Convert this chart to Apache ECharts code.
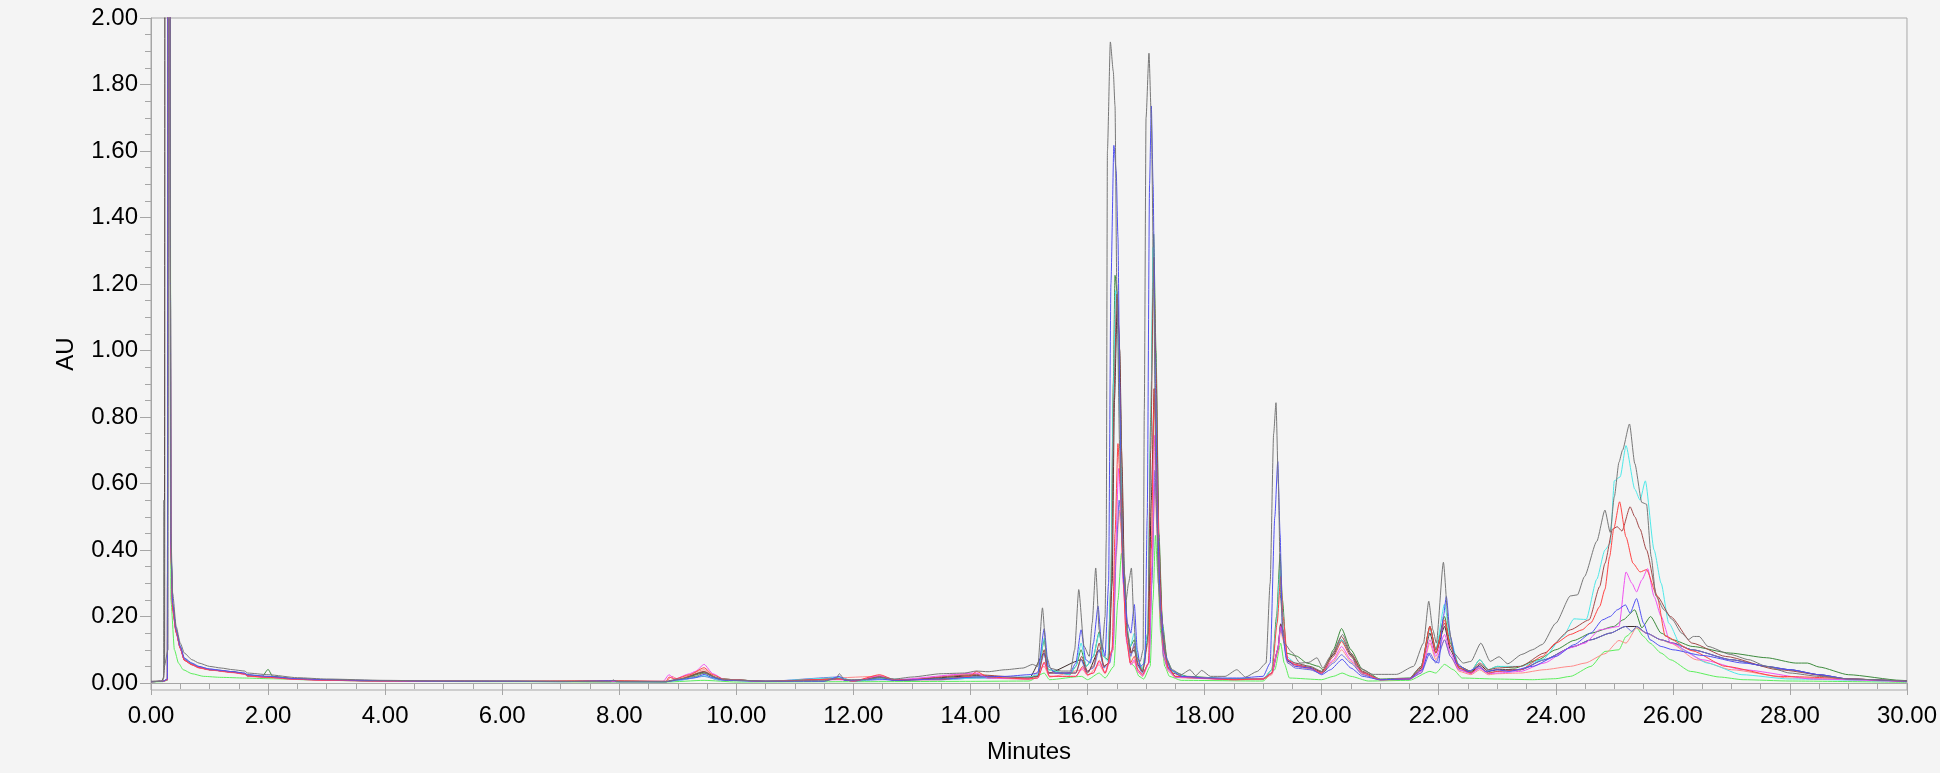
<!DOCTYPE html>
<html>
<head>
<meta charset="utf-8">
<script src="https://cdn.jsdelivr.net/npm/echarts@6/dist/echarts.min.js"></script>
<style>
  html, body { margin: 0; padding: 0; background: #ffffff; }
  #chart { width: 1940px; height: 773px; background: #f4f4f4; }
</style>
</head>
<body>
<div id="chart"></div>
<script>
// ---- tick labels ----
const xTicks = [0, 2, 4, 6, 8, 10, 12, 14, 16, 18, 20, 22, 24, 26, 28, 30];
const yMajor = [0, 0.2, 0.4, 0.6, 0.8, 1.0, 1.2, 1.4, 1.6, 1.8, 2.0];
const yMinor = [0.05, 0.1, 0.15, 0.25, 0.3, 0.35, 0.45, 0.5, 0.55, 0.65, 0.7, 0.75, 0.85, 0.9, 0.95,
  1.05, 1.1, 1.15, 1.25, 1.3, 1.35, 1.45, 1.5, 1.55, 1.65, 1.7, 1.75, 1.85, 1.9, 1.95];

// ---- series values: [minutes, AU] ----
const gray = [[0,0.004],[0.2,0.005],[0.215,0.02],[0.222,0.55],[0.228,0.05],[0.29,0.1],[0.3,3],[0.32,3],[0.34,0.45],[0.37,0.27],[0.43,0.17],[0.5,0.12],[0.57,0.09],[0.7,0.07],[0.82,0.06],[1.0,0.05],[1.2,0.045],[1.4,0.04],[1.6,0.036],[1.65,0.03],[2.0,0.025],[2.5,0.016],[3.0,0.012],[4.0,0.008],[5.0,0.006],[6.0,0.006],[7.0,0.005],[7.85,0.005],[7.9,0.009],[7.95,0.005],[8.8,0.005],[9.0,0.012],[9.3,0.02],[9.45,0.03],[9.6,0.02],[9.8,0.01],[10.5,0.006],[11.5,0.007],[11.7,0.012],[11.76,0.028],[11.85,0.01],[12.2,0.01],[12.45,0.018],[12.7,0.012],[13.0,0.018],[13.5,0.028],[13.9,0.03],[14.1,0.036],[14.3,0.034],[14.6,0.04],[14.9,0.045],[15.06,0.056],[15.15,0.05],[15.23,0.226],[15.3,0.08],[15.37,0.044],[15.55,0.036],[15.71,0.036],[15.78,0.1],[15.85,0.281],[15.94,0.111],[16.03,0.08],[16.08,0.18],[16.14,0.346],[16.2,0.16],[16.25,0.1],[16.3,0.2],[16.32,0.43],[16.34,1.6],[16.39,1.928],[16.44,1.84],[16.47,1.735],[16.5,1.2],[16.55,0.7],[16.6,0.4],[16.66,0.25],[16.7,0.3],[16.75,0.346],[16.79,0.2],[16.83,0.08],[16.9,0.065],[16.95,0.1],[16.97,0.82],[17.0,1.7],[17.05,1.894],[17.09,1.7],[17.13,1.2],[17.17,0.6],[17.21,0.3],[17.27,0.15],[17.35,0.07],[17.45,0.04],[17.6,0.025],[17.75,0.04],[17.85,0.022],[17.95,0.038],[18.1,0.02],[18.35,0.02],[18.55,0.04],[18.7,0.018],[18.9,0.035],[19.05,0.06],[19.12,0.3],[19.18,0.75],[19.22,0.843],[19.26,0.6],[19.3,0.25],[19.36,0.12],[19.49,0.093],[19.63,0.06],[19.78,0.062],[19.92,0.076],[20.02,0.045],[20.15,0.08],[20.36,0.146],[20.5,0.09],[20.6,0.05],[20.88,0.026],[21.28,0.026],[21.57,0.05],[21.74,0.12],[21.83,0.246],[21.9,0.16],[21.96,0.12],[22.08,0.363],[22.17,0.17],[22.25,0.091],[22.42,0.06],[22.55,0.065],[22.72,0.12],[22.88,0.065],[23.03,0.079],[23.18,0.058],[23.42,0.086],[23.6,0.1],[23.77,0.116],[24.0,0.18],[24.25,0.262],[24.37,0.265],[24.49,0.32],[24.7,0.426],[24.84,0.52],[24.93,0.453],[25.0,0.56],[25.08,0.664],[25.14,0.7],[25.26,0.779],[25.35,0.66],[25.47,0.543],[25.55,0.538],[25.63,0.38],[25.71,0.262],[25.85,0.22],[25.99,0.191],[26.15,0.15],[26.27,0.131],[26.35,0.14],[26.45,0.14],[26.6,0.11],[26.98,0.086],[27.3,0.07],[27.6,0.05],[28,0.03],[28.5,0.02],[29,0.012],[30,0.006]];

const blue = [[0,0.004],[0.2,0.005],[0.28,0.012],[0.29,3],[0.32,3],[0.34,0.42],[0.37,0.24],[0.43,0.16],[0.5,0.11],[0.57,0.075],[0.7,0.06],[0.82,0.05],[1.0,0.042],[1.2,0.038],[1.4,0.034],[1.6,0.03],[1.65,0.025],[2.0,0.02],[2.5,0.013],[3.0,0.01],[4,0.007],[5,0.005],[6,0.005],[7,0.004],[7.9,0.007],[8.0,0.004],[8.8,0.004],[9.0,0.01],[9.3,0.016],[9.45,0.026],[9.6,0.016],[9.8,0.008],[10.5,0.005],[11.5,0.005],[11.76,0.02],[11.85,0.008],[12.45,0.012],[12.7,0.008],[13.5,0.012],[14.1,0.018],[14.6,0.02],[15.0,0.025],[15.15,0.03],[15.26,0.163],[15.33,0.05],[15.45,0.03],[15.7,0.03],[15.8,0.06],[15.89,0.16],[15.97,0.07],[16.05,0.06],[16.1,0.12],[16.18,0.231],[16.24,0.12],[16.3,0.08],[16.36,0.3],[16.4,1.2],[16.45,1.617],[16.49,1.54],[16.52,1.34],[16.55,0.9],[16.57,0.56],[16.62,0.3],[16.68,0.18],[16.74,0.15],[16.8,0.236],[16.85,0.1],[16.9,0.05],[16.98,0.06],[17.02,0.5],[17.06,1.5],[17.09,1.735],[17.12,1.5],[17.16,0.9],[17.2,0.45],[17.25,0.22],[17.32,0.09],[17.42,0.04],[17.6,0.02],[17.8,0.018],[18.0,0.015],[18.6,0.015],[19.0,0.02],[19.12,0.06],[19.2,0.5],[19.25,0.666],[19.29,0.45],[19.33,0.15],[19.4,0.07],[19.55,0.05],[19.8,0.045],[20.0,0.025],[20.15,0.04],[20.35,0.071],[20.5,0.045],[20.7,0.02],[21.0,0.01],[21.5,0.012],[21.72,0.04],[21.82,0.09],[21.9,0.07],[22.0,0.06],[22.08,0.2],[22.13,0.26],[22.2,0.14],[22.3,0.06],[22.5,0.035],[22.7,0.05],[22.8,0.035],[23.0,0.04],[23.2,0.035],[23.6,0.05],[24.0,0.08],[24.31,0.115],[24.6,0.15],[24.8,0.19],[24.93,0.2],[25.05,0.22],[25.19,0.235],[25.27,0.21],[25.38,0.254],[25.5,0.18],[25.61,0.13],[25.8,0.11],[26.0,0.1],[26.5,0.083],[27.2,0.06],[28.0,0.04],[28.5,0.025],[29.0,0.012],[30,0.005]];

const darkGreen = [[0,0.004],[0.2,0.005],[0.28,0.01],[0.29,3],[0.32,3],[0.34,0.41],[0.37,0.23],[0.43,0.155],[0.5,0.105],[0.57,0.07],[0.7,0.056],[0.82,0.047],[1.0,0.04],[1.4,0.033],[1.6,0.028],[1.65,0.024],[1.9,0.02],[2.0,0.041],[2.08,0.02],[2.5,0.012],[3,0.009],[4,0.006],[6,0.005],[7.9,0.006],[8.8,0.004],[9.0,0.01],[9.45,0.03],[9.7,0.012],[10.5,0.005],[11.76,0.012],[12.0,0.006],[12.45,0.015],[12.8,0.008],[14.1,0.018],[14.8,0.015],[15.15,0.02],[15.26,0.13],[15.33,0.04],[15.7,0.025],[15.8,0.05],[15.89,0.1],[15.98,0.05],[16.1,0.08],[16.2,0.154],[16.27,0.08],[16.35,0.07],[16.4,0.3],[16.44,0.9],[16.47,1.226],[16.51,1.17],[16.55,0.85],[16.6,0.4],[16.66,0.18],[16.73,0.11],[16.8,0.13],[16.86,0.07],[16.94,0.04],[17.03,0.15],[17.08,0.8],[17.13,1.35],[17.17,1.0],[17.22,0.45],[17.28,0.18],[17.36,0.07],[17.45,0.035],[17.7,0.02],[18.5,0.012],[19.0,0.012],[19.15,0.04],[19.23,0.2],[19.29,0.387],[19.33,0.25],[19.4,0.09],[19.57,0.081],[19.75,0.06],[19.95,0.05],[20.05,0.035],[20.2,0.1],[20.34,0.164],[20.5,0.1],[20.7,0.04],[21.0,0.012],[21.5,0.015],[21.7,0.05],[21.85,0.17],[21.95,0.1],[22.1,0.2],[22.2,0.12],[22.35,0.05],[22.55,0.035],[22.7,0.07],[22.85,0.04],[23.0,0.05],[23.3,0.045],[23.7,0.07],[24.0,0.1],[24.31,0.128],[24.6,0.15],[24.99,0.17],[25.15,0.19],[25.35,0.22],[25.47,0.166],[25.62,0.2],[25.8,0.15],[26.0,0.13],[26.33,0.11],[26.98,0.09],[27.6,0.076],[28.1,0.06],[28.3,0.06],[28.5,0.048],[29.0,0.025],[29.9,0.008],[30,0.007]];

const cyan = [[0,0.004],[0.2,0.005],[0.28,0.01],[0.29,3],[0.32,3],[0.34,0.42],[0.37,0.235],[0.43,0.158],[0.5,0.108],[0.57,0.072],[0.7,0.058],[0.82,0.048],[1.0,0.041],[1.4,0.033],[1.6,0.028],[1.65,0.023],[2.0,0.018],[2.5,0.012],[3,0.009],[4,0.006],[6,0.005],[8.8,0.004],[9.0,0.008],[9.45,0.022],[9.7,0.01],[10.5,0.005],[11.76,0.016],[12.0,0.006],[12.45,0.012],[13.5,0.01],[14.1,0.015],[15.0,0.018],[15.15,0.025],[15.26,0.135],[15.33,0.04],[15.7,0.025],[15.8,0.05],[15.89,0.12],[15.98,0.05],[16.1,0.08],[16.2,0.15],[16.27,0.08],[16.35,0.065],[16.4,0.3],[16.44,0.85],[16.48,1.18],[16.52,1.1],[16.56,0.8],[16.61,0.38],[16.67,0.17],[16.73,0.11],[16.8,0.15],[16.86,0.07],[16.94,0.04],[17.03,0.15],[17.08,0.75],[17.12,1.31],[17.16,1.0],[17.21,0.45],[17.27,0.18],[17.35,0.07],[17.45,0.035],[17.7,0.018],[18.5,0.012],[19.0,0.012],[19.15,0.04],[19.23,0.18],[19.29,0.34],[19.33,0.22],[19.4,0.08],[19.55,0.06],[19.8,0.05],[20.0,0.035],[20.2,0.08],[20.34,0.13],[20.5,0.08],[20.7,0.03],[21.0,0.01],[21.5,0.014],[21.7,0.05],[21.85,0.16],[21.95,0.1],[22.1,0.237],[22.2,0.13],[22.35,0.05],[22.55,0.035],[22.7,0.07],[22.85,0.04],[23.0,0.05],[23.4,0.05],[23.77,0.07],[24.13,0.141],[24.31,0.193],[24.52,0.191],[24.7,0.312],[24.84,0.4],[24.93,0.42],[25.0,0.608],[25.1,0.62],[25.2,0.714],[25.35,0.583],[25.44,0.55],[25.53,0.608],[25.68,0.4],[25.8,0.3],[25.93,0.18],[26.17,0.1],[26.59,0.06],[27.18,0.025],[28,0.012],[30,0.004]];

const red = [[0,0.004],[0.2,0.005],[0.28,0.01],[0.29,3],[0.32,3],[0.34,0.4],[0.37,0.22],[0.43,0.152],[0.5,0.105],[0.57,0.068],[0.7,0.055],[0.82,0.046],[1.0,0.04],[1.4,0.032],[1.6,0.027],[1.65,0.021],[2.0,0.017],[2.5,0.011],[3,0.008],[4,0.006],[6,0.005],[7.9,0.007],[8.8,0.005],[8.85,0.018],[8.95,0.012],[9.2,0.025],[9.45,0.046],[9.6,0.025],[9.8,0.01],[10.5,0.005],[11.76,0.012],[12.0,0.006],[12.45,0.025],[12.7,0.01],[13.5,0.01],[14.0,0.02],[14.1,0.035],[14.3,0.018],[15.0,0.012],[15.15,0.015],[15.26,0.063],[15.35,0.02],[15.8,0.02],[15.92,0.05],[16.0,0.025],[16.1,0.03],[16.2,0.068],[16.3,0.03],[16.42,0.1],[16.47,0.45],[16.52,0.72],[16.56,0.6],[16.6,0.35],[16.66,0.14],[16.73,0.06],[16.8,0.08],[16.86,0.04],[16.94,0.025],[17.04,0.06],[17.09,0.4],[17.14,0.885],[17.18,0.65],[17.23,0.3],[17.3,0.1],[17.38,0.045],[17.5,0.02],[18.5,0.01],[19.0,0.012],[19.15,0.03],[19.24,0.18],[19.3,0.32],[19.34,0.2],[19.42,0.07],[19.55,0.055],[19.8,0.045],[20.0,0.03],[20.2,0.08],[20.34,0.125],[20.5,0.08],[20.7,0.03],[21.0,0.01],[21.5,0.012],[21.7,0.04],[21.85,0.17],[21.95,0.09],[22.1,0.19],[22.2,0.11],[22.35,0.045],[22.55,0.03],[22.7,0.05],[22.85,0.03],[23.0,0.035],[23.4,0.04],[23.77,0.08],[24.0,0.12],[24.25,0.146],[24.45,0.16],[24.6,0.181],[24.75,0.23],[24.84,0.282],[24.92,0.38],[24.99,0.463],[25.09,0.545],[25.2,0.439],[25.32,0.36],[25.44,0.334],[25.55,0.341],[25.73,0.262],[25.87,0.141],[26.33,0.097],[26.9,0.05],[27.8,0.02],[30,0.005]];

const brown = [[0,0.004],[0.2,0.005],[0.28,0.01],[0.29,3],[0.32,3],[0.34,0.41],[0.37,0.23],[0.43,0.155],[0.5,0.106],[0.57,0.07],[0.7,0.056],[0.82,0.047],[1.0,0.04],[1.4,0.033],[1.6,0.028],[1.65,0.022],[2.0,0.018],[2.5,0.012],[3,0.009],[4,0.006],[6,0.005],[8.8,0.004],[9.0,0.01],[9.45,0.035],[9.7,0.012],[10.5,0.005],[11.76,0.012],[12.0,0.006],[12.45,0.02],[12.7,0.008],[14.1,0.025],[15.0,0.015],[15.15,0.02],[15.26,0.1],[15.33,0.03],[15.8,0.03],[15.9,0.08],[16.0,0.035],[16.1,0.05],[16.2,0.12],[16.28,0.05],[16.36,0.06],[16.41,0.3],[16.45,0.85],[16.5,1.17],[16.54,1.05],[16.58,0.7],[16.62,0.35],[16.68,0.15],[16.74,0.09],[16.8,0.11],[16.86,0.06],[16.94,0.035],[17.03,0.12],[17.08,0.7],[17.13,1.28],[17.17,0.95],[17.22,0.42],[17.28,0.16],[17.36,0.065],[17.45,0.03],[17.7,0.016],[18.5,0.011],[19.0,0.012],[19.15,0.03],[19.25,0.1],[19.3,0.176],[19.34,0.16],[19.42,0.07],[19.55,0.06],[19.8,0.05],[20.0,0.035],[20.2,0.09],[20.34,0.14],[20.5,0.09],[20.7,0.035],[21.0,0.01],[21.5,0.014],[21.7,0.05],[21.85,0.17],[21.95,0.1],[22.1,0.18],[22.2,0.11],[22.35,0.05],[22.55,0.035],[22.7,0.06],[22.85,0.04],[23.0,0.045],[23.4,0.05],[23.8,0.09],[24.25,0.16],[24.57,0.19],[24.75,0.29],[24.84,0.36],[24.97,0.463],[25.05,0.47],[25.13,0.457],[25.27,0.53],[25.35,0.5],[25.44,0.463],[25.55,0.4],[25.73,0.262],[25.96,0.2],[26.33,0.12],[26.9,0.08],[27.8,0.04],[29.0,0.012],[30,0.005]];

const magenta = [[0,0.004],[0.2,0.005],[0.28,0.01],[0.29,3],[0.32,3],[0.34,0.4],[0.37,0.22],[0.43,0.153],[0.5,0.104],[0.57,0.069],[0.7,0.055],[0.82,0.046],[1.0,0.04],[1.4,0.032],[1.6,0.027],[1.65,0.021],[2.0,0.017],[2.5,0.011],[3,0.008],[4,0.006],[6,0.005],[8.75,0.005],[8.85,0.025],[8.95,0.012],[9.2,0.028],[9.3,0.035],[9.45,0.056],[9.6,0.028],[9.8,0.01],[10.5,0.005],[11.76,0.01],[12.0,0.006],[12.45,0.022],[12.7,0.01],[14.1,0.03],[14.3,0.015],[15.0,0.012],[15.15,0.015],[15.26,0.06],[15.35,0.02],[15.8,0.02],[15.92,0.045],[16.0,0.025],[16.1,0.03],[16.2,0.063],[16.3,0.03],[16.43,0.1],[16.48,0.4],[16.53,0.645],[16.57,0.55],[16.61,0.3],[16.67,0.12],[16.74,0.055],[16.8,0.07],[16.86,0.035],[16.94,0.022],[17.05,0.06],[17.1,0.35],[17.15,0.745],[17.19,0.55],[17.24,0.25],[17.3,0.09],[17.38,0.04],[17.5,0.018],[18.5,0.01],[19.0,0.012],[19.15,0.03],[19.25,0.1],[19.3,0.17],[19.34,0.15],[19.42,0.07],[19.55,0.055],[19.8,0.045],[20.0,0.03],[20.2,0.07],[20.34,0.11],[20.5,0.07],[20.7,0.03],[21.0,0.01],[21.5,0.012],[21.7,0.035],[21.85,0.13],[21.95,0.08],[22.1,0.146],[22.2,0.09],[22.35,0.04],[22.55,0.028],[22.7,0.045],[22.85,0.028],[23.0,0.03],[23.4,0.035],[23.8,0.06],[24.25,0.106],[24.5,0.12],[24.75,0.16],[25.08,0.17],[25.2,0.334],[25.3,0.3],[25.38,0.274],[25.47,0.31],[25.57,0.344],[25.68,0.26],[25.8,0.2],[25.96,0.121],[26.5,0.07],[27.2,0.04],[28.4,0.012],[30,0.004]];

const slate = [[0,0.004],[0.2,0.005],[0.28,0.01],[0.29,3],[0.32,3],[0.34,0.42],[0.37,0.24],[0.43,0.16],[0.5,0.11],[0.57,0.073],[0.7,0.058],[0.82,0.049],[1.0,0.042],[1.4,0.034],[1.6,0.029],[1.65,0.024],[2.0,0.019],[2.5,0.012],[3,0.009],[4,0.006],[6,0.005],[8.8,0.004],[9.0,0.008],[9.45,0.02],[9.7,0.009],[10.5,0.005],[11.76,0.018],[12.0,0.006],[12.45,0.01],[13.5,0.01],[14.1,0.015],[15.0,0.018],[15.15,0.022],[15.26,0.09],[15.33,0.03],[15.8,0.03],[15.89,0.07],[15.98,0.035],[16.1,0.045],[16.2,0.1],[16.28,0.045],[16.38,0.06],[16.44,0.12],[16.49,0.4],[16.54,0.55],[16.58,0.48],[16.62,0.3],[16.68,0.14],[16.74,0.08],[16.8,0.12],[16.86,0.05],[16.94,0.03],[17.05,0.06],[17.1,0.3],[17.15,0.64],[17.19,0.48],[17.24,0.22],[17.3,0.08],[17.38,0.04],[17.5,0.018],[18.5,0.012],[19.0,0.014],[19.15,0.03],[19.25,0.1],[19.3,0.17],[19.34,0.14],[19.42,0.06],[19.55,0.045],[19.8,0.04],[20.0,0.028],[20.2,0.06],[20.34,0.085],[20.5,0.06],[20.7,0.025],[21.0,0.01],[21.5,0.012],[21.7,0.03],[21.85,0.09],[21.95,0.06],[22.1,0.13],[22.2,0.08],[22.35,0.04],[22.55,0.03],[22.7,0.045],[22.85,0.03],[23.0,0.035],[23.4,0.04],[23.8,0.07],[24.31,0.11],[24.6,0.13],[24.93,0.15],[25.19,0.17],[25.3,0.155],[25.38,0.17],[25.55,0.15],[25.8,0.13],[26.0,0.12],[26.33,0.1],[27.0,0.07],[27.6,0.05],[28.0,0.04],[28.5,0.025],[29.0,0.012],[30,0.005]];

const lightGreen = [[0,0.003],[0.2,0.004],[0.28,0.008],[0.295,3],[0.325,3],[0.34,0.25],[0.4,0.1],[0.47,0.06],[0.55,0.04],[0.7,0.028],[0.9,0.02],[1.2,0.017],[1.6,0.015],[2.0,0.013],[3,0.008],[4,0.005],[6,0.004],[8.8,0.003],[9.45,0.008],[10,0.003],[12,0.004],[14,0.005],[15.0,0.006],[15.26,0.03],[15.35,0.01],[15.9,0.02],[16.0,0.01],[16.2,0.03],[16.3,0.015],[16.45,0.05],[16.52,0.25],[16.58,0.39],[16.63,0.32],[16.68,0.15],[16.74,0.06],[16.8,0.05],[16.88,0.02],[16.96,0.012],[17.07,0.05],[17.12,0.25],[17.16,0.444],[17.2,0.33],[17.25,0.15],[17.32,0.05],[17.4,0.02],[17.6,0.008],[19.0,0.006],[19.2,0.04],[19.3,0.12],[19.36,0.06],[19.45,0.015],[20.0,0.01],[20.2,0.02],[20.35,0.03],[20.5,0.02],[20.8,0.006],[21.5,0.008],[21.85,0.035],[21.95,0.03],[22.1,0.056],[22.25,0.04],[22.4,0.015],[23.0,0.012],[23.6,0.01],[24.0,0.013],[24.25,0.02],[24.6,0.05],[24.84,0.095],[25.08,0.1],[25.2,0.14],[25.38,0.166],[25.5,0.14],[25.61,0.12],[25.8,0.09],[25.96,0.07],[26.3,0.035],[26.8,0.018],[27.2,0.01],[28,0.006],[30,0.002]];

const salmon = [[0,0.004],[0.2,0.005],[0.28,0.01],[0.29,3],[0.32,3],[0.34,0.4],[0.37,0.22],[0.43,0.15],[0.5,0.103],[0.57,0.068],[0.7,0.054],[0.82,0.045],[1.0,0.039],[1.4,0.031],[1.6,0.026],[1.65,0.02],[2.0,0.016],[2.5,0.011],[3,0.008],[4,0.006],[6,0.005],[8.8,0.005],[8.9,0.02],[9.0,0.012],[9.45,0.04],[9.7,0.012],[10.5,0.005],[12.45,0.02],[12.7,0.008],[14.1,0.028],[14.3,0.014],[15.0,0.012],[15.26,0.05],[15.35,0.018],[15.92,0.04],[16.0,0.022],[16.2,0.055],[16.3,0.028],[16.44,0.1],[16.49,0.38],[16.54,0.52],[16.58,0.45],[16.62,0.28],[16.68,0.12],[16.74,0.055],[16.8,0.065],[16.86,0.033],[16.94,0.02],[17.05,0.06],[17.1,0.32],[17.15,0.6],[17.19,0.45],[17.24,0.2],[17.3,0.075],[17.38,0.035],[17.5,0.016],[18.5,0.01],[19.0,0.011],[19.15,0.025],[19.25,0.09],[19.3,0.16],[19.34,0.13],[19.42,0.06],[19.55,0.05],[19.8,0.042],[20.0,0.028],[20.2,0.065],[20.34,0.1],[20.5,0.065],[20.7,0.025],[21.0,0.009],[21.5,0.011],[21.7,0.03],[21.85,0.12],[21.95,0.07],[22.1,0.13],[22.2,0.08],[22.35,0.035],[22.55,0.025],[22.7,0.04],[22.85,0.025],[23.0,0.028],[23.4,0.03],[23.8,0.04],[24.25,0.05],[24.5,0.06],[24.84,0.088],[25.08,0.128],[25.2,0.12],[25.38,0.166],[25.55,0.15],[25.8,0.13],[25.96,0.12],[26.4,0.07],[27.0,0.04],[28,0.015],[30,0.004]];

const dark = [[0,0.005],[0.18,0.006],[0.215,0.015],[0.232,0.06],[0.24,3],[0.315,3],[0.335,0.42],[0.37,0.23],[0.43,0.155],[0.5,0.105],[0.57,0.07],[0.7,0.056],[0.82,0.047],[1.0,0.04],[1.4,0.033],[1.6,0.028],[1.65,0.022],[2.0,0.018],[2.5,0.012],[3,0.009],[4,0.006],[6,0.005],[7.85,0.004],[7.9,0.008],[7.95,0.004],[8.8,0.004],[9.0,0.01],[9.45,0.033],[9.7,0.012],[10.5,0.005],[11.76,0.012],[12.0,0.006],[12.45,0.018],[12.7,0.008],[14.1,0.022],[15.0,0.014],[15.26,0.09],[15.33,0.03],[15.9,0.07],[16.0,0.03],[16.2,0.1],[16.28,0.05],[16.36,0.06],[16.42,0.3],[16.46,0.85],[16.51,1.16],[16.55,1.0],[16.59,0.65],[16.63,0.33],[16.69,0.14],[16.75,0.09],[16.8,0.1],[16.86,0.055],[16.94,0.033],[17.04,0.15],[17.09,0.55],[17.14,0.885],[17.18,0.7],[17.23,0.32],[17.3,0.11],[17.38,0.045],[17.5,0.02],[18.5,0.011],[19.0,0.012],[19.15,0.03],[19.25,0.1],[19.3,0.178],[19.34,0.15],[19.42,0.065],[19.55,0.055],[19.8,0.047],[20.0,0.033],[20.2,0.085],[20.34,0.13],[20.5,0.085],[20.7,0.032],[21.0,0.01],[21.5,0.013],[21.7,0.045],[21.85,0.15],[21.95,0.09],[22.1,0.17],[22.2,0.1],[22.35,0.045],[22.55,0.032],[22.7,0.055],[22.85,0.035],[23.0,0.04],[23.4,0.04],[23.8,0.07],[24.31,0.11],[24.6,0.13],[24.93,0.15],[25.19,0.17],[25.38,0.17],[25.55,0.15],[25.8,0.13],[26.0,0.12],[26.33,0.1],[27.0,0.07],[27.6,0.05],[28.0,0.04],[28.5,0.025],[29.0,0.012],[30,0.005]];

const seriesList = [
  { name: 'dark', data: dark, color: '#3b2a2a' },
  { name: 'lightGreen', data: lightGreen, color: '#5cee5c' },
  { name: 'salmon', data: salmon, color: '#ff8a8a' },
  { name: 'slate', data: slate, color: '#6b6bdc' },
  { name: 'darkGreen', data: darkGreen, color: '#3c8a3c' },
  { name: 'cyan', data: cyan, color: '#4ee8e8' },
  { name: 'brown', data: brown, color: '#a24a4a' },
  { name: 'magenta', data: magenta, color: '#f050f0' },
  { name: 'red', data: red, color: '#ff4444' },
  { name: 'blue', data: blue, color: '#5050f2' },
  { name: 'gray', data: gray, color: '#777777' }
];

const FONT = "'Liberation Sans', Arial, sans-serif";
const tickColor = '#a6a6a6';

const chart = echarts.init(document.getElementById('chart'), null, { renderer: 'canvas' });
chart.setOption({
  animation: false,
  backgroundColor: '#f4f4f4',
  grid: {
    left: 151, top: 18, right: 28, bottom: 83,
    show: true, borderColor: '#a8a8a8', borderWidth: 1, backgroundColor: 'transparent'
  },
  xAxis: {
    type: 'value', min: 0, max: 30, interval: 2,
    name: 'Minutes', nameLocation: 'middle', nameGap: 50,
    nameTextStyle: { fontFamily: FONT, fontSize: 24, color: '#000' },
    axisLine: { show: true, lineStyle: { color: tickColor, width: 1 } },
    axisTick: { show: true, length: 12, lineStyle: { color: tickColor } },
    minorTick: { show: true, splitNumber: 4, length: 6, lineStyle: { color: tickColor } },
    splitLine: { show: false },
    minorSplitLine: { show: false },
    axisLabel: {
      margin: 14, fontFamily: FONT, fontSize: 24, color: '#000',
      customValues: xTicks,
      formatter: v => v.toFixed(2)
    }
  },
  yAxis: [
    {
      type: 'value', min: -0.021, max: 2.0, position: 'left',
      name: 'AU', nameLocation: 'middle', nameGap: 73,
      nameTextStyle: { fontFamily: FONT, fontSize: 24, color: '#000' },
      axisLine: { show: true, lineStyle: { color: tickColor, width: 1 } },
      axisTick: { show: true, length: 11, customValues: yMajor, lineStyle: { color: tickColor } },
      splitLine: { show: false },
      axisLabel: {
        margin: 13, fontFamily: FONT, fontSize: 24, color: '#000',
        customValues: yMajor,
        formatter: v => v.toFixed(2)
      }
    },
    {
      type: 'value', min: -0.021, max: 2.0, position: 'left', offset: 0,
      axisLine: { show: false },
      axisTick: { show: true, length: 6, customValues: yMinor, lineStyle: { color: tickColor } },
      axisLabel: { show: false },
      splitLine: { show: false }
    }
  ],
  series: seriesList.map(s => ({
    name: s.name,
    type: 'line',
    data: s.data,
    xAxisIndex: 0,
    yAxisIndex: 0,
    showSymbol: false,
    symbol: 'none',
    clip: true,
    smooth: 0.2,
    smoothMonotone: 'x',
    lineStyle: { color: s.color, width: 1 },
    emphasis: { disabled: true }
  }))
});
</script>
</body>
</html>
